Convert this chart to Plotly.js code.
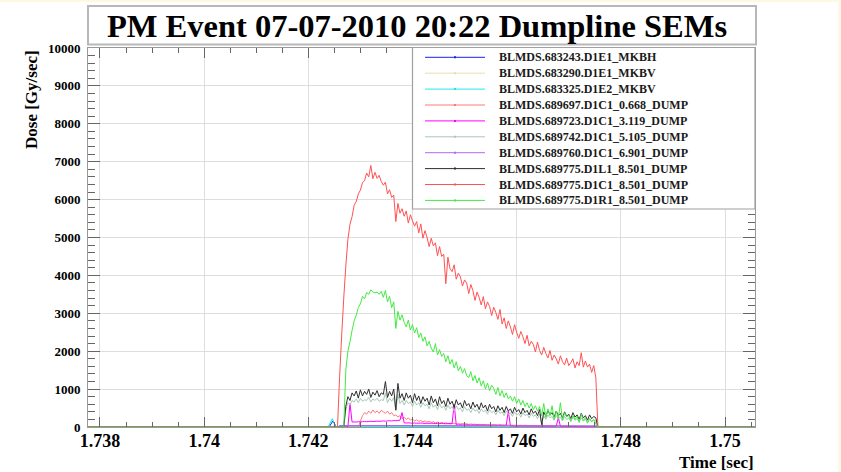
<!DOCTYPE html>
<html><head><meta charset="utf-8">
<script src="https://cdn.plot.ly/plotly-3.0.1.min.js"></script>
<style>html,body{margin:0;padding:0;background:#fff8e4;} #chart{width:841px;height:472px;}</style>
</head><body><div id="chart"></div>
<script>
// ---------------- DATA ----------------
const chartTitle = "PM Event 07-07-2010 20:22 Dumpline SEMs";
const xTitle = "Time [sec]";
const yTitle = "Dose [Gy/sec]";
const xTickVals = [1.738, 1.740, 1.742, 1.744, 1.746, 1.748, 1.750];
const xTickText = ["1.738", "1.74", "1.742", "1.744", "1.746", "1.748", "1.75"];
const xRange = [1.73777, 1.750576];
const yRange = [0, 10000];

const seriesNames = [
  "BLMDS.683243.D1E1_MKBH",
  "BLMDS.683290.D1E1_MKBV",
  "BLMDS.683325.D1E2_MKBV",
  "BLMDS.689697.D1C1_0.668_DUMP",
  "BLMDS.689723.D1C1_3.119_DUMP",
  "BLMDS.689742.D1C1_5.105_DUMP",
  "BLMDS.689760.D1C1_6.901_DUMP",
  "BLMDS.689775.D1L1_8.501_DUMP",
  "BLMDS.689775.D1C1_8.501_DUMP",
  "BLMDS.689775.D1R1_8.501_DUMP"
];

// shared 40 us time grid (sec) for the dump-line monitors
const timeSec = [1.73777,
1.74252,1.74256,1.74260,1.74264,1.74268,1.74272,1.74276,1.74280,1.74284,1.74288,
1.74292,1.74296,1.74300,1.74304,1.74308,1.74312,1.74316,1.74320,1.74324,1.74328,
1.74332,1.74336,1.74340,1.74344,1.74348,1.74352,1.74356,1.74360,1.74364,1.74368,
1.74372,1.74376,1.74380,1.74384,1.74388,1.74392,1.74396,1.74400,1.74404,1.74408,
1.74412,1.74416,1.74420,1.74424,1.74428,1.74432,1.74436,1.74440,1.74444,1.74448,
1.74452,1.74456,1.74460,1.74464,1.74468,1.74472,1.74476,1.74480,1.74484,1.74488,
1.74492,1.74496,1.74500,1.74504,1.74508,1.74512,1.74516,1.74520,1.74524,1.74528,
1.74532,1.74536,1.74540,1.74544,1.74548,1.74552,1.74556,1.74560,1.74564,1.74568,
1.74572,1.74576,1.74580,1.74584,1.74588,1.74592,1.74596,1.74600,1.74604,1.74608,
1.74612,1.74616,1.74620,1.74624,1.74628,1.74632,1.74636,1.74640,1.74644,1.74648,
1.74652,1.74656,1.74660,1.74664,1.74668,1.74672,1.74676,1.74680,1.74684,1.74688,
1.74692,1.74696,1.74700,1.74704,1.74708,1.74712,1.74716,1.74720,1.74724,1.74728,
1.74732,1.74736,1.74740,1.74744,1.74748,1.74752,1.74756,1.74760,
1.750576];

// sparse series (near-zero monitors)
const timeMKBH = [1.73777, 1.74240, 1.74247, 1.74254, 1.74262, 1.74500, 1.74756, 1.74760, 1.750576];
const doseMKBH = [0, 0, 160, 0, 30, 25, 20, 0, 0];
const timeMKBV1 = [1.73777, 1.74256, 1.74262, 1.74756, 1.74760, 1.750576];
const doseMKBV1 = [0, 0, 15, 15, 0, 0];
const timeMKBV2 = [1.73777, 1.74238, 1.74246, 1.74253, 1.74260, 1.74756, 1.74760, 1.750576];
const doseMKBV2 = [0, 0, 220, 0, 10, 10, 0, 0];
const time6901 = [1.73777, 1.74256, 1.74262, 1.74450, 1.74756, 1.74760, 1.750576];
const dose6901 = [0, 0, 40, 35, 25, 0, 0];

const dose0668 = [0,
0,0,0,0,0,0,0,0,0,0,
0,0,150,300,380,340,420,360,450,380,
420,360,440,400,360,420,340,380,300,320,
260,300,220,260,200,240,180,210,160,190,
150,170,140,160,130,150,120,140,110,130,
100,120,100,110,90,100,90,100,80,90,
80,90,80,85,70,80,70,75,60,70,
60,65,60,65,55,60,55,60,50,55,
50,55,50,50,45,50,45,45,40,45,
40,45,40,40,35,40,35,35,30,35,
30,35,30,30,30,30,25,30,25,25,
25,25,20,25,20,20,20,20,20,20,
15,20,15,15,15,15,0,0,
0];

const dose3119 = [0,
0,0,0,0,0,0,0,620,130,135,
130,140,135,140,145,140,145,150,145,150,
155,150,155,160,155,160,165,160,170,165,
175,180,380,110,105,110,105,100,105,100,
100,105,100,95,100,95,100,95,90,95,
90,95,90,85,90,85,90,600,60,55,
60,55,55,60,55,50,55,50,55,50,
50,55,50,45,50,45,50,45,45,50,
45,40,45,420,30,30,25,30,25,30,
25,30,25,25,30,25,25,20,25,20,
25,20,20,25,20,20,20,250,15,15,
15,15,15,10,15,10,15,10,10,15,
10,10,10,10,10,10,0,0,
0];

const dose5105 = [0,
0,0,0,0,0,450,640,580,700,660,
740,640,760,680,720,700,780,660,740,700,
760,680,720,700,900,640,760,680,780,420,
860,620,700,580,700,620,660,540,680,580,
640,520,640,560,600,480,640,520,580,460,
620,500,560,440,580,480,540,420,560,460,
500,400,540,440,480,380,500,420,460,360,
480,400,440,340,460,380,420,320,440,360,
400,300,420,340,380,280,400,320,360,260,
380,300,340,240,360,280,320,220,340,80,
300,200,320,240,280,180,300,220,260,160,
280,200,240,150,260,180,220,140,240,160,
200,120,220,140,180,160,0,0,
0];

const doseD1L1 = [0,
0,0,0,0,0,550,800,700,900,820,
950,760,980,820,940,860,1000,780,920,840,
960,800,900,860,1200,780,940,820,1000,450,
1150,760,880,700,900,760,840,640,880,700,
820,620,800,680,760,580,820,640,740,560,
800,620,700,540,760,600,680,520,720,580,
640,500,700,560,620,480,660,520,600,460,
640,500,580,420,600,480,540,400,560,440,
520,380,540,420,480,360,520,400,460,340,
500,380,440,320,480,360,420,300,460,60,
400,280,440,320,380,260,420,300,360,240,
400,280,340,220,380,260,320,200,360,240,
300,180,320,220,280,240,0,0,
0];

const doseD1C1 = [0,
0,0,1300,2400,3400,4250,4950,5350,5550,5850,
5950,6150,6250,6450,6500,6700,6600,6900,6550,6720,
6560,6640,6480,6380,6460,6150,6260,6060,6120,5420,
5900,5640,5760,5560,5700,5380,5600,5440,5300,5420,
5120,5360,4980,5180,5000,4760,4980,4780,4860,4520,
4760,4500,4560,3780,4480,4180,4100,4280,3900,4060,
3960,3720,3880,3800,3520,3760,3600,3340,3560,3420,
3220,3440,3120,3300,3180,2940,3160,3020,2840,3100,
2720,2880,2600,2800,2640,2440,2700,2500,2340,2520,
2380,2200,2420,2140,2260,2180,1980,2240,2020,1900,
2100,1940,1820,2020,1760,1900,1800,1660,1880,1720,
1640,1820,1620,1700,1800,1560,1720,1620,1960,1580,
1740,1580,1660,1440,1620,1300,0,0,
0];

const doseD1R1 = [0,
0,0,0,0,0,1500,2000,2250,2550,2800,
2950,3150,3250,3450,3380,3550,3500,3620,3560,3540,
3560,3500,3580,3420,3600,3300,3450,3150,3300,2600,
3050,2820,2960,2760,2640,2820,2560,2700,2480,2620,
2360,2480,2260,2380,2140,2260,2080,1980,2200,1900,
2040,1860,1940,1720,1880,1660,1780,1560,1720,1480,
1600,1420,1540,1360,1300,1460,1220,1360,1160,1300,
1080,1220,1000,1160,960,1100,1020,860,1040,820,
960,780,900,740,820,680,800,620,740,580,
700,540,640,500,620,460,560,420,540,300,
620,250,480,300,560,200,420,220,640,180,
380,260,320,150,300,200,280,120,340,160,
250,100,220,140,200,80,0,0,
0];

// ---------------- STYLE ----------------
const seriesColors = ["#2020ff", "#e6dfb0", "#20e8e8", "#ff7878", "#ff00ff",
                      "#a8c8b6", "#b366ff", "#2e2e2e", "#ff5252", "#44ea44"];

const W = 841, H = 472, ML = 88, MR = 86, MT = 48, MB = 45;
const PW = W - ML - MR, PH = H - MT - MB;
const px2x = px => (px - ML) / PW;
const py2y = py => (H - MB - py) / PH;
const serif = "Liberation Serif, Times New Roman, serif";

const seriesX = [timeMKBH, timeMKBV1, timeMKBV2, timeSec, timeSec, timeSec, time6901, timeSec, timeSec, timeSec];
const seriesY = [doseMKBH, doseMKBV1, doseMKBV2, dose0668, dose3119, dose5105, dose6901, doseD1L1, doseD1C1, doseD1R1];

const traces = seriesNames.map((n, k) => ({
  type: "scatter", mode: "lines", name: n,
  x: seriesX[k], y: seriesY[k],
  line: {color: seriesColors[k], width: 1, simplify: false},
  showlegend: false, hoverinfo: "skip"
}));

// ---------------- SHAPES / ANNOTATIONS ----------------
const shapes = [];
const annotations = [];
shapes.push({type: "rect", xref: "paper", yref: "paper", layer: "below",
  x0: px2x(0), x1: px2x(838), y0: py2y(H), y1: py2y(2),
  fillcolor: "#ffffff", line: {width: 0}});
shapes.push({type: "rect", xref: "paper", yref: "paper", layer: "above",
  x0: px2x(88), x1: px2x(756), y0: py2y(44.5), y1: py2y(6),
  fillcolor: "rgba(0,0,0,0)", line: {color: "#b8b8b8", width: 2}});
shapes.push({type: "rect", xref: "paper", yref: "paper", layer: "above",
  x0: px2x(412.5), x1: px2x(755), y0: py2y(209), y1: py2y(47.5),
  fillcolor: "#ffffff", line: {color: "#a0a0a0", width: 1.2}});
seriesNames.forEach((n, k) => {
  const py = 57.3 + 15.9 * k;
  shapes.push({type: "line", xref: "paper", yref: "paper", layer: "above",
    x0: px2x(425), x1: px2x(485), y0: py2y(py), y1: py2y(py),
    line: {color: seriesColors[k], width: 1}});
  shapes.push({type: "rect", xref: "paper", yref: "paper", layer: "above",
    x0: px2x(454), x1: px2x(456), y0: py2y(py + 1), y1: py2y(py - 1),
    fillcolor: seriesColors[k], line: {width: 0}});
  annotations.push({xref: "paper", yref: "paper", x: px2x(497), y: py2y(py),
    xanchor: "left", yanchor: "middle", showarrow: false, text: n,
    font: {family: serif, size: 12, color: "#1a1a1a", weight: "bold"}});
});
annotations.push({xref: "paper", yref: "paper", x: px2x(31), y: py2y(100),
  xanchor: "center", yanchor: "middle", showarrow: false, text: yTitle, textangle: -90,
  font: {family: serif, size: 17, color: "#000", weight: "bold"}});
annotations.push({xref: "paper", yref: "paper", x: px2x(756), y: py2y(462),
  xanchor: "right", yanchor: "middle", showarrow: false, text: xTitle,
  font: {family: serif, size: 17, color: "#000", weight: "bold"}});

const layout = {
  width: W, height: H,
  margin: {l: ML, r: MR, t: MT, b: MB, pad: 0},
  paper_bgcolor: "#fff8e4", plot_bgcolor: "#ffffff",
  showlegend: false,
  title: {text: chartTitle, xref: "container", yref: "container",
    x: 417 / W, y: 1 - 26 / H, xanchor: "center", yanchor: "middle",
    font: {family: serif, size: 32.5, color: "#000", weight: "bold"}},
  xaxis: {range: xRange, tickvals: xTickVals, ticktext: xTickText,
    ticks: "inside", ticklen: 10, tickcolor: "#666", tickwidth: 1,
    showline: true, linecolor: "#999", linewidth: 1, mirror: "ticks",
    showgrid: true, gridcolor: "#dedede", gridwidth: 1, zeroline: false,
    ticklabelstandoff: -3,
    minor: {ticks: "inside", ticklen: 5, tick0: 1.738, dtick: 0.0005, tickcolor: "#666", showgrid: false},
    tickfont: {family: serif, size: 18, color: "#000", weight: "bold"}},
  yaxis: {range: yRange, tick0: 0, dtick: 1000, tickformat: "d",
    ticks: "inside", ticklen: 12, tickcolor: "#666", tickwidth: 1,
    showline: true, linecolor: "#999", linewidth: 1, mirror: "ticks",
    showgrid: true, gridcolor: "#dedede", gridwidth: 1, zeroline: false,
    ticklabelstandoff: 4,
    minor: {ticks: "inside", ticklen: 7, tick0: 0, dtick: 200, tickcolor: "#666", showgrid: false},
    tickfont: {family: serif, size: 13, color: "#000", weight: "bold"}},
  shapes: shapes, annotations: annotations
};

Plotly.newPlot("chart", traces, layout, {staticPlot: true, displayModeBar: false});
</script>
</body></html>
